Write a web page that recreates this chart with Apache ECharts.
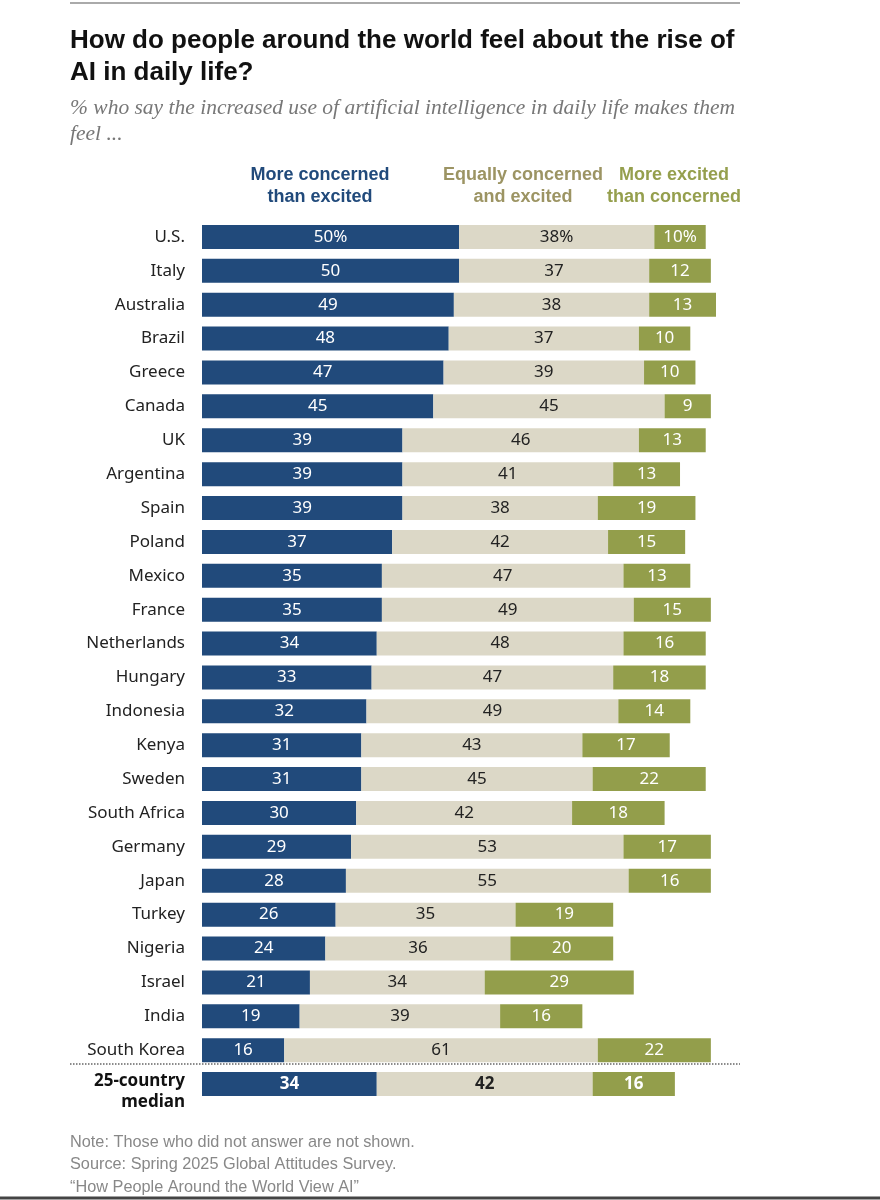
<!DOCTYPE html>
<html lang="en">
<head>
<meta charset="UTF-8">
<title>AI in daily life</title>
<style>
  html, body { margin: 0; padding: 0; background: #fff; }
  #chart { width: 880px; height: 1200px; }
</style>
</head>
<body>
<div id="chart"></div>
<script src="https://cdn.jsdelivr.net/npm/echarts@6/dist/echarts.min.js"></script>
<script>
var countries = ['U.S.', 'Italy', 'Australia', 'Brazil', 'Greece', 'Canada', 'UK', 'Argentina', 'Spain',
    'Poland', 'Mexico', 'France', 'Netherlands', 'Hungary', 'Indonesia', 'Kenya', 'Sweden', 'South Africa',
    'Germany', 'Japan', 'Turkey', 'Nigeria', 'Israel', 'India', 'South Korea', '25-country median'];
var concerned = [50, 50, 49, 48, 47, 45, 39, 39, 39, 37, 35, 35, 34, 33, 32, 31, 31, 30, 29, 28, 26, 24, 21, 19, 16, 34];
var equally   = [38, 37, 38, 37, 39, 45, 46, 41, 38, 42, 47, 49, 48, 47, 49, 43, 45, 42, 53, 55, 35, 36, 34, 39, 61, 42];
var excited   = [10, 12, 13, 10, 10, 9, 13, 13, 19, 15, 13, 15, 16, 18, 14, 17, 22, 18, 17, 16, 19, 20, 29, 16, 22, 16];

var BLUE = '#214a7b', BEIGE = '#dcd8c7', GREEN = '#939e4b';
var last = countries.length - 1;

function makeData(vals) {
    return vals.map(function (v, i) {
        var d = { value: v };
        if (i === last) d.label = { fontWeight: 'bold' };
        return d;
    });
}
// only the first row carries the % sign
function fmt(p) {
    return p.dataIndex === 0 ? p.value + '%' : '' + p.value;
}

var chart = echarts.init(document.getElementById('chart'));
var labelFont = '"Noto Sans", "Liberation Sans", sans-serif';
var headFont = '"Liberation Sans", Arial, sans-serif';

var option = {
    animation: false,
    grid: { left: 202, top: 220, width: 514, height: 881 },
    xAxis: { type: 'value', min: 0, max: 100, show: false },
    yAxis: {
        type: 'category',
        data: countries,
        inverse: true,
        axisLine: { show: false },
        axisTick: { show: false },
        axisLabel: {
            interval: 0,
            margin: 17,
            fontSize: 17,
            color: '#222',
            fontFamily: labelFont,
            formatter: function (v) {
                // spacer line pushes the two bold lines a bit below the bar centre
                if (v === '25-country median') return '{s| }\n{m|25-country}\n{m|median}';
                return v;
            },
            rich: {
                s: { fontSize: 6, lineHeight: 15 },
                m: { fontSize: 17, fontWeight: 'bold', color: '#111', fontFamily: labelFont, lineHeight: 21 }
            }
        }
    },
    series: [
        {
            name: 'More concerned than excited', type: 'bar', stack: 'a', barWidth: 24,
            data: makeData(concerned),
            itemStyle: { color: BLUE },
            label: { show: true, position: 'inside', color: '#fff', fontSize: 17, fontFamily: labelFont, formatter: fmt }
        },
        {
            name: 'Equally concerned and excited', type: 'bar', stack: 'a', barWidth: 24,
            data: makeData(equally),
            itemStyle: { color: BEIGE },
            label: { show: true, position: 'inside', color: '#222', fontSize: 17, fontFamily: labelFont, formatter: fmt }
        },
        {
            name: 'More excited than concerned', type: 'bar', stack: 'a', barWidth: 24,
            data: makeData(excited),
            itemStyle: { color: GREEN },
            label: { show: true, position: 'inside', color: '#fff', fontSize: 17, fontFamily: labelFont, formatter: fmt }
        }
    ],
    graphic: [
        { type: 'line', shape: { x1: 70, y1: 3, x2: 740, y2: 3 }, style: { stroke: '#aaa', lineWidth: 2 } },
        {
            type: 'text', left: 70, top: 25,
            style: {
                text: 'How do people around the world feel about the rise of\nAI in daily life?',
                fontSize: 26, fontWeight: 'bold', fill: '#111', fontFamily: headFont, lineHeight: 32
            }
        },
        {
            type: 'text', left: 70, top: 95,
            style: {
                text: '% who say the increased use of artificial intelligence in daily life makes them\nfeel ...',
                fontSize: 21.5, fontStyle: 'italic', fill: '#777', fontFamily: '"Liberation Serif", "DejaVu Serif", serif', lineHeight: 26
            }
        },
        {
            type: 'text', x: 320, y: 164,
            style: { text: 'More concerned\nthan excited', align: 'center', fontSize: 18, fontWeight: 'bold', fill: BLUE, fontFamily: headFont, lineHeight: 22 }
        },
        {
            type: 'text', x: 523, y: 164,
            style: { text: 'Equally concerned\nand excited', align: 'center', fontSize: 18, fontWeight: 'bold', fill: '#9c9463', fontFamily: headFont, lineHeight: 22 }
        },
        {
            type: 'text', x: 674, y: 164,
            style: { text: 'More excited\nthan concerned', align: 'center', fontSize: 18, fontWeight: 'bold', fill: '#959f4d', fontFamily: headFont, lineHeight: 22 }
        },
        { type: 'line', shape: { x1: 70, y1: 1064, x2: 740, y2: 1064 }, style: { stroke: '#666', lineWidth: 1.5, lineDash: [1.5, 1.5] } },
        {
            type: 'text', left: 70, top: 1131,
            style: {
                text: 'Note: Those who did not answer are not shown.\nSource: Spring 2025 Global Attitudes Survey.\n\u201cHow People Around the World View AI\u201d',
                fontSize: 16.3, fill: '#888', fontFamily: headFont, lineHeight: 22.5
            }
        },
        { type: 'line', shape: { x1: 0, y1: 1198, x2: 880, y2: 1198 }, style: { stroke: '#444', lineWidth: 3 } }
    ]
};
chart.setOption(option);
</script>
</body>
</html>
